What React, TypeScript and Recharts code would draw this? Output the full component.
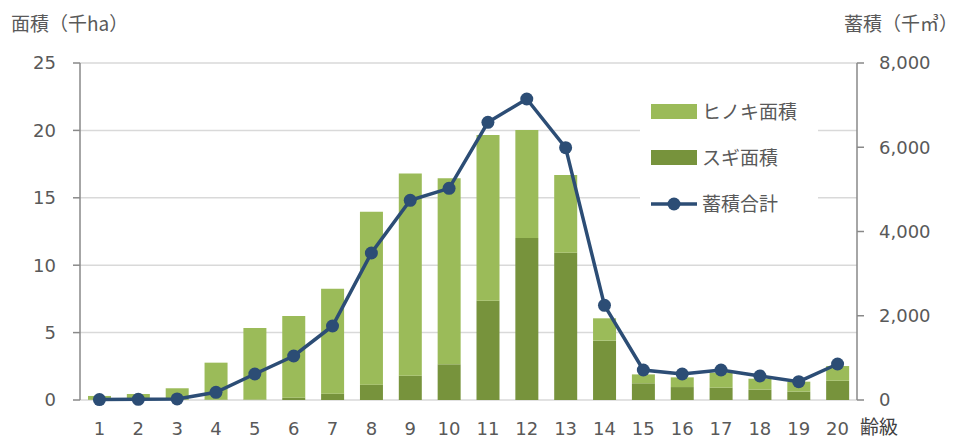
import {
  Bar,
  CartesianGrid,
  ComposedChart,
  Legend,
  Line,
  XAxis,
  YAxis,
} from 'recharts'

// 齢級ごとの面積（千ha）と蓄積（千㎥）
const ageClasses = [
  '1', '2', '3', '4', '5', '6', '7', '8', '9', '10',
  '11', '12', '13', '14', '15', '16', '17', '18', '19', '20',
]
const sugiArea = [
  0.02, 0.02, 0.02, 0.02, 0.03, 0.17, 0.47, 1.14, 1.8, 2.65,
  7.37, 12.02, 10.93, 4.4, 1.24, 0.96, 0.91, 0.77, 0.62, 1.43,
]
const hinokiArea = [
  0.28, 0.43, 0.85, 2.75, 5.31, 6.06, 7.79, 12.83, 15.0, 13.8,
  12.29, 8.01, 5.77, 1.66, 0.66, 0.72, 1.12, 0.81, 0.74, 1.09,
]
const totalStock = [
  10, 15, 25, 183, 617, 1045, 1757, 3490, 4740, 5025,
  6592, 7145, 5990, 2247, 712, 617, 712, 570, 435, 855,
]
const areaTicks = [0, 5, 10, 15, 20, 25]
const stockTicks = [0, 2000, 4000, 6000, 8000]
const boundaryTicks = Array.from({ length: 21 }, (_, i) => i)

const HINOKI = '#9bbb59'
const SUGI = '#77933c'
const NAVY = '#2c4d75'
const AXIS = '#898989'
const TEXT = '#595959'
const NUM_FONT = '"DejaVu Sans", Verdana, sans-serif'
const JP_FONT = '"Noto Sans CJK JP", sans-serif'

const data = ageClasses.map((age, i) => ({
  age,
  sugi: sugiArea[i],
  hinoki: hinokiArea[i],
  stock: totalStock[i],
}))

const legendItems = [
  { key: 'hinoki', label: 'ヒノキ面積', kind: 'bar', color: HINOKI },
  { key: 'sugi', label: 'スギ面積', kind: 'bar', color: SUGI },
  { key: 'stock', label: '蓄積合計', kind: 'line', color: NAVY },
]

const LegendBox = () => (
  <svg width={178} height={130}>
    <rect width={178} height={130} fill="#fff" />
    {legendItems.map((item, i) => {
      const cy = 22 + i * 46
      return (
        <g key={item.key}>
          {item.kind === 'bar' ? (
            <rect x={11} y={cy - 8} width={46} height={15} fill={item.color} />
          ) : (
            <g>
              <line x1={11} x2={57} y1={cy} y2={cy} stroke={item.color} strokeWidth={3.5} />
              <circle cx={34} cy={cy} r={6.5} fill={item.color} />
            </g>
          )}
          <text
            x={62}
            y={cy}
            dy="0.35em"
            fontSize={19}
            fontFamily={JP_FONT}
            fill={TEXT}
          >
            {item.label}
          </text>
        </g>
      )
    })}
  </svg>
)

const fmt = (v: number) => v.toLocaleString('en-US')

export default function App() {
  return (
    <div style={{ position: 'absolute', left: 0, top: 0, background: '#fff' }}>
      <ComposedChart
        width={958}
        height={437}
        data={data}
        margin={{ top: 63, right: 20, bottom: 0, left: 0 }}
      >
        <CartesianGrid
          yAxisId="area"
          vertical={false}
          stroke="#d9d9d9"
          strokeWidth={1.5}
        />
        {/* tick marks between age classes, pointing into the plot */}
        <XAxis
          xAxisId="bounds"
          type="number"
          domain={[0, 20]}
          ticks={boundaryTicks}
          allowDataOverflow
          mirror
          height={0}
          tick={false}
          tickSize={7}
          stroke={AXIS}
          strokeWidth={1.5}
        />
        <XAxis
          xAxisId="cat"
          dataKey="age"
          height={37}
          interval={0}
          axisLine={false}
          tickLine={false}
          tickSize={0}
          tickMargin={22}
          tick={{ fill: TEXT, fontSize: 18, fontFamily: NUM_FONT }}
          label={{
            content: (props: any) => (
              <text
                x={props.viewBox.x + props.viewBox.width + 3}
                y={434}
                fontSize={19}
                fontFamily={JP_FONT}
                fill="#404040"
              >
                齢級
              </text>
            ),
          }}
        />
        <YAxis
          yAxisId="area"
          width={80}
          domain={[0, 25]}
          ticks={areaTicks}
          tickSize={7}
          tickMargin={17}
          stroke={AXIS}
          strokeWidth={1.5}
          tick={{ fill: TEXT, fontSize: 18, fontFamily: NUM_FONT }}
          label={{
            content: () => (
              <text x={11} y={31} fontSize={19} fontFamily={JP_FONT} fill={TEXT}>
                面積（千ha）
              </text>
            ),
          }}
        />
        <YAxis
          yAxisId="stock"
          orientation="right"
          width={81}
          domain={[0, 8000]}
          ticks={stockTicks}
          tickSize={7}
          tickMargin={15}
          tickFormatter={fmt}
          stroke={AXIS}
          strokeWidth={1.5}
          tick={{ fill: TEXT, fontSize: 18, fontFamily: NUM_FONT }}
          label={{
            content: (props: any) => (
              <text
                x={props.viewBox.x - 13}
                y={31}
                fontSize={19}
                fontFamily={JP_FONT}
                fill={TEXT}
              >
                蓄積（千㎥）
              </text>
            ),
          }}
        />
        <Legend
          layout="vertical"
          align="center"
          verticalAlign="middle"
          wrapperStyle={{ left: 640, top: 90, width: 178, height: 130 }}
          content={() => <LegendBox />}
        />
        <Bar
          xAxisId="cat"
          yAxisId="area"
          dataKey="sugi"
          stackId="area"
          fill={SUGI}
          barSize={23}
          isAnimationActive={false}
        />
        <Bar
          xAxisId="cat"
          yAxisId="area"
          dataKey="hinoki"
          stackId="area"
          fill={HINOKI}
          barSize={23}
          isAnimationActive={false}
        />
        <Line
          xAxisId="cat"
          yAxisId="stock"
          dataKey="stock"
          stroke={NAVY}
          strokeWidth={3.5}
          dot={{ r: 6.5, fill: NAVY, stroke: NAVY, strokeWidth: 0 }}
          activeDot={false}
          isAnimationActive={false}
        />
      </ComposedChart>
    </div>
  )
}
